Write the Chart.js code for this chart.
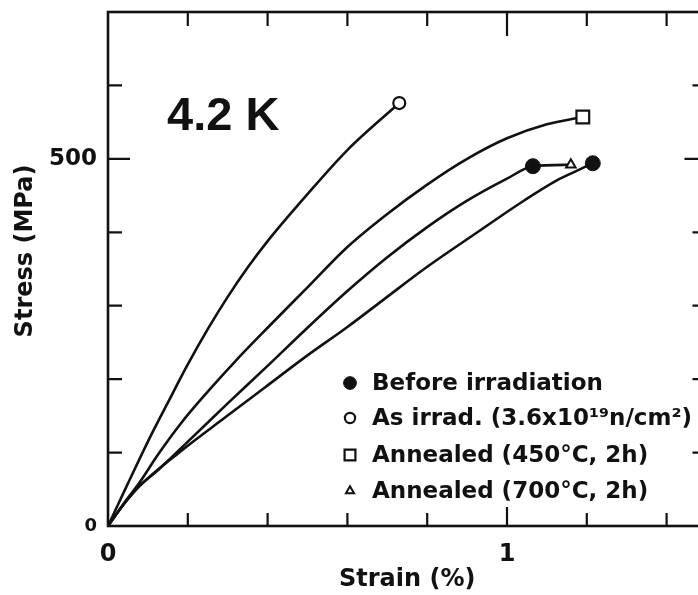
<!DOCTYPE html>
<html>
<head>
<meta charset="utf-8">
<script src="https://cdn.jsdelivr.net/npm/chart.js@4.4.1/dist/chart.umd.min.js"></script>
<style>
  html, body { margin: 0; padding: 0; background: #fff; overflow: hidden; }
  #wrap { width: 720px; height: 595px; }
</style>
</head>
<body>
<div id="wrap"><canvas id="c" width="720" height="595"></canvas></div>
<script>
// Tensile stress–strain curves at 4.2 K. Strain in %, stress in MPa.
const beforeStrain  = [0, 0.04, 0.08, 0.185, 0.294, 0.394, 0.494, 0.60, 0.69, 0.80, 0.923, 1.045, 1.126, 1.168, 1.215];
const beforeStress  = [0, 30, 55, 103, 148, 189, 230, 271, 308, 353, 399, 444, 471, 482, 494];

// second unirradiated specimen (fracture point only)
const before2Strain = [1.065];
const before2Stress = [490];

const asIrradStrain = [0, 0.05, 0.10, 0.15, 0.20, 0.25, 0.30, 0.35, 0.40, 0.50, 0.60, 0.73];
const asIrradStress = [0, 58, 115, 168, 220, 268, 312, 352, 388, 452, 512, 576];

const ann450Strain  = [0, 0.04, 0.08, 0.125, 0.183, 0.25, 0.32, 0.40, 0.50, 0.60, 0.70, 0.80, 0.90, 1.00, 1.10, 1.19];
const ann450Stress  = [0, 31, 60, 97, 140, 183, 225, 270, 325, 380, 425, 465, 500, 528, 547, 557];

const ann700Strain  = [0, 0.04, 0.08, 0.125, 0.21, 0.30, 0.40, 0.50, 0.60, 0.70, 0.80, 0.90, 1.00, 1.065, 1.16];
const ann700Stress  = [0, 30, 55, 76, 120, 167, 218, 270, 320, 366, 407, 443, 473, 490, 492];

// axis ticks and the labels printed beside them
const xTickValues = [0, 0.2, 0.4, 0.6, 0.8, 1.0, 1.2, 1.4];
const xTickLabels = ['0', '', '', '', '', '1', '', ''];
const yTickValues = [0, 100, 200, 300, 400, 500, 600, 700];
const yTickLabels = ['0', '', '', '', '', '500', '', ''];

const legendLabels = [
  'Before irradiation',
  'As irrad. (3.6x10\u00B9\u2079n/cm\u00B2)',
  'Annealed (450\u00B0C, 2h)',
  'Annealed (700\u00B0C, 2h)'
];

const INK = '#111';
const FONT = '"DejaVu Sans", sans-serif';

const pts = (xs, ys) => xs.map((v, i) => ({ x: v, y: ys[i] }));
const lastOnly = r => c => (c.dataIndex === c.dataset.data.length - 1 ? r : 0);

const markerStyles = [
  { pointStyle: 'circle',   radius: 7.5, fill: INK,    border: 1 },
  { pointStyle: 'circle',   radius: 6,   fill: '#fff', border: 2.2 },
  { pointStyle: 'rect',     radius: 9,   fill: '#fff', border: 2.2 },
  { pointStyle: 'triangle', radius: 5.5, fill: '#fff', border: 2 }
];

function curve(label, xs, ys, m) {
  return {
    label,
    data: pts(xs, ys),
    borderColor: INK,
    borderWidth: 2.6,
    backgroundColor: m.fill,
    pointStyle: m.pointStyle,
    pointRadius: lastOnly(m.radius),
    pointBorderWidth: m.border,
    pointBorderColor: INK,
    pointBackgroundColor: m.fill,
    cubicInterpolationMode: 'monotone',
    fill: false
  };
}

const datasets = [
  curve(legendLabels[0], beforeStrain, beforeStress, markerStyles[0]),
  curve(legendLabels[1], asIrradStrain, asIrradStress, markerStyles[1]),
  curve(legendLabels[2], ann450Strain, ann450Stress, markerStyles[2]),
  curve(legendLabels[3], ann700Strain, ann700Stress, markerStyles[3]),
  Object.assign(curve(legendLabels[0], before2Strain, before2Stress, markerStyles[0]), { showLine: false })
];

// frame with inward ticks, rotated y title, temperature label and in-plot legend
const decorations = {
  id: 'decorations',
  afterDraw(chart) {
    const { ctx, chartArea: a, scales: { x, y } } = chart;
    ctx.save();
    ctx.strokeStyle = INK;
    ctx.lineCap = 'butt';
    ctx.lineWidth = 2.6;
    ctx.strokeRect(a.left, a.top, a.right - a.left, a.bottom - a.top);

    ctx.lineWidth = 2.2;
    ctx.beginPath();
    yTickValues.forEach(v => {
      if (v <= y.min || v >= y.max) return;
      const py = y.getPixelForValue(v);
      const len = v === 500 ? 22 : 14;
      ctx.moveTo(a.left, py);  ctx.lineTo(a.left + len, py);
      ctx.moveTo(a.right, py); ctx.lineTo(a.right - len, py);
    });
    xTickValues.forEach(v => {
      if (v <= x.min || v >= x.max) return;
      const px = x.getPixelForValue(v);
      const major = Math.abs(v - 1) < 1e-9;
      ctx.moveTo(px, a.bottom); ctx.lineTo(px, a.bottom - (major ? 19 : 13));
      ctx.moveTo(px, a.top);    ctx.lineTo(px, a.top + (major ? 24 : 14));
    });
    ctx.stroke();

    ctx.fillStyle = INK;

    // y axis title
    ctx.save();
    ctx.translate(26, 251);
    ctx.rotate(-Math.PI / 2);
    ctx.font = 'bold 24px ' + FONT;
    ctx.textAlign = 'center';
    ctx.textBaseline = 'middle';
    ctx.fillText('Stress (MPa)', 0, 0);
    ctx.restore();

    // temperature
    ctx.font = 'bold 47px "Liberation Sans", Arial, sans-serif';
    ctx.textAlign = 'left';
    ctx.textBaseline = 'alphabetic';
    ctx.fillText('4.2 K', 167, 130);

    // legend
    const rows = [383, 418, 455, 491];
    ctx.font = 'bold 23px ' + FONT;
    ctx.textBaseline = 'middle';
    legendLabels.forEach((txt, i) => {
      const m = markerStyles[i];
      ctx.fillStyle = m.fill;
      ctx.strokeStyle = INK;
      ctx.lineWidth = m.border;
      Chart.helpers.drawPoint(ctx, {
        pointStyle: m.pointStyle,
        radius: m.radius * 0.85,
        rotation: 0,
        borderWidth: m.border
      }, 350, rows[i]);
      ctx.fillStyle = INK;
      ctx.fillText(txt, 372, rows[i] + 1);
    });
    ctx.restore();
  }
};

new Chart(document.getElementById('c'), {
  type: 'line',
  data: { datasets },
  options: {
    responsive: false,
    animation: false,
    events: [],
    layout: { padding: { top: 12, right: 13.5, left: 0, bottom: 0 } },
    plugins: { legend: { display: false }, tooltip: { enabled: false } },
    scales: {
      x: {
        type: 'linear',
        min: 0,
        max: 1.5,
        afterBuildTicks: s => { s.ticks = xTickValues.map(v => ({ value: v })); },
        afterFit: s => { s.height = 69; s.paddingLeft = 0; s.paddingRight = 0; },
        grid: { display: false, drawTicks: false },
        border: { display: false },
        ticks: {
          padding: 14,
          maxRotation: 0,
          autoSkip: false,
          color: INK,
          font: { family: FONT, size: 24, weight: 'bold' },
          callback: v => xTickLabels[xTickValues.findIndex(t => Math.abs(t - v) < 1e-9)] ?? ''
        },
        title: {
          display: true,
          text: 'Strain (%)',
          color: INK,
          font: { family: FONT, size: 24, weight: 'bold' },
          padding: { top: 0, bottom: 1 }
        }
      },
      y: {
        type: 'linear',
        min: 0,
        max: 700,
        afterBuildTicks: s => { s.ticks = yTickValues.map(v => ({ value: v })); },
        afterFit: s => { s.width = 108; s.paddingTop = 0; s.paddingBottom = 0; },
        grid: { display: false, drawTicks: false },
        border: { display: false },
        ticks: {
          padding: 11,
          autoSkip: false,
          color: INK,
          font: c => ({ family: FONT, size: (c.tick && c.tick.value === 0) ? 18 : 23, weight: 'bold' }),
          callback: v => yTickLabels[yTickValues.indexOf(v)] ?? ''
        }
      }
    }
  },
  plugins: [decorations]
});
</script>
</body>
</html>
